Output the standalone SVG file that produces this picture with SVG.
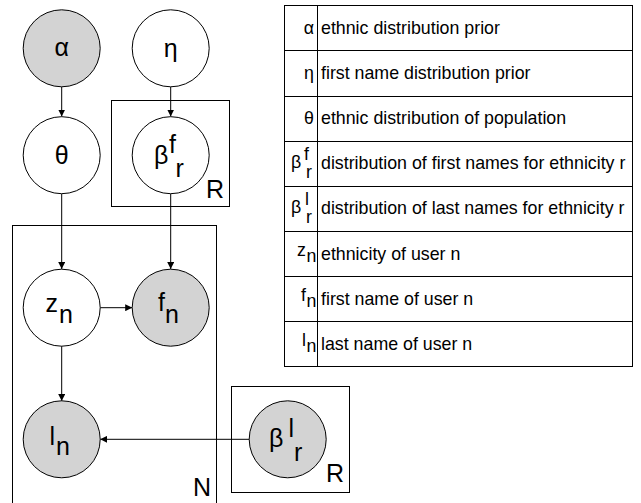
<svg xmlns="http://www.w3.org/2000/svg" width="641" height="503" viewBox="0 0 641 503">
<defs>
<marker id="ah" viewBox="0 0 10 10" refX="10" refY="5" markerWidth="7" markerHeight="7" markerUnits="userSpaceOnUse" orient="auto"><path d="M0,0 L10,5 L0,10 z" fill="#000"/></marker>
<style>
.n{stroke:#000;stroke-width:1;fill:#fff}
.o{fill:#d3d3d3}
.plate{fill:none;stroke:#000;stroke-width:1}
.lbl{font-family:"Liberation Sans",Arial,sans-serif;font-size:25px;fill:#000}
.t{font-family:"Liberation Sans",Arial,sans-serif;font-size:17.8px;fill:#000}
.e{stroke:#000;stroke-width:1;fill:none;marker-end:url(#ah)}
.g{stroke:#000;stroke-width:1;fill:none}
</style>
</defs>
<rect width="641" height="503" fill="#fff"/>
<g id="plates">
<rect class="plate" x="111.5" y="100.5" width="118" height="106"/>
<text class="lbl" x="206" y="198">R</text>
<rect class="plate" x="12.5" y="225.5" width="204" height="290"/>
<text class="lbl" x="193" y="496">N</text>
<rect class="plate" x="231.5" y="386.5" width="118" height="106"/>
<text class="lbl" x="326" y="482">R</text>
</g>
<g id="connectors">
<line class="e" x1="61.7" y1="87" x2="61.7" y2="116.5"/>
<line class="e" x1="170.7" y1="87" x2="170.7" y2="116.5"/>
<line class="e" x1="61.7" y1="194" x2="61.7" y2="269"/>
<line class="e" x1="170.7" y1="194" x2="170.7" y2="269"/>
<line class="e" x1="100.2" y1="307.7" x2="132.2" y2="307.7"/>
<line class="e" x1="61.7" y1="346" x2="61.7" y2="401"/>
<line class="e" x1="249.2" y1="439.3" x2="100.2" y2="439.3"/>
</g>
<g id="alpha"><circle class="n o" cx="61.7" cy="48.3" r="38.5"/><text class="lbl" x="61.7" y="56" text-anchor="middle">α</text></g>
<g id="eta"><circle class="n" cx="170.7" cy="48.3" r="38.5"/><text class="lbl" x="170.7" y="57" text-anchor="middle">η</text></g>
<g id="theta"><circle class="n" cx="61.7" cy="155.2" r="38.5"/><text class="lbl" x="61.7" y="164" text-anchor="middle">θ</text></g>
<g id="beta_f"><circle class="n" cx="170.7" cy="155.2" r="38.5"/><text class="lbl" x="154" y="164">β</text><text class="lbl" x="169" y="153">f</text><text class="lbl" x="175.5" y="177">r</text></g>
<g id="z_n"><circle class="n" cx="61.7" cy="307.7" r="38.5"/><text class="lbl" x="45.5" y="312">z</text><text class="lbl" x="59" y="323">n</text></g>
<g id="f_n"><circle class="n o" cx="170.7" cy="307.7" r="38.5"/><text class="lbl" x="158" y="311">f</text><text class="lbl" x="165" y="323">n</text></g>
<g id="l_n"><circle class="n o" cx="61.7" cy="439.3" r="38.5"/><text class="lbl" x="49.5" y="445">l</text><text class="lbl" x="56" y="455">n</text></g>
<g id="beta_l"><circle class="n o" cx="287.7" cy="439.3" r="38.5"/><text class="lbl" x="269" y="447">β</text><text class="lbl" x="288.5" y="437">l</text><text class="lbl" x="294" y="461">r</text></g>
<g id="legend">
<rect class="g" x="284.5" y="5.5" width="348" height="361"/>
<line class="g" x1="317.5" y1="5.5" x2="317.5" y2="366.5"/>
<line class="g" x1="284.5" y1="50.5" x2="632.5" y2="50.5"/>
<line class="g" x1="284.5" y1="96.5" x2="632.5" y2="96.5"/>
<line class="g" x1="284.5" y1="141.5" x2="632.5" y2="141.5"/>
<line class="g" x1="284.5" y1="186.5" x2="632.5" y2="186.5"/>
<line class="g" x1="284.5" y1="231.5" x2="632.5" y2="231.5"/>
<line class="g" x1="284.5" y1="276.5" x2="632.5" y2="276.5"/>
<line class="g" x1="284.5" y1="321.5" x2="632.5" y2="321.5"/>
<text class="t" x="314" y="34" text-anchor="end">α</text><text class="t" x="321" y="34">ethnic distribution prior</text>
<text class="t" x="314" y="79" text-anchor="end">η</text><text class="t" x="321" y="79">first name distribution prior</text>
<text class="t" x="314" y="124" text-anchor="end">θ</text><text class="t" x="321" y="124">ethnic distribution of population</text>
<text class="t" x="291" y="168">β</text><text class="t" x="304" y="160">f</text><text class="t" x="306" y="178">r</text><text class="t" x="321" y="169">distribution of first names for ethnicity r</text>
<text class="t" x="291" y="213">β</text><text class="t" x="305" y="205">l</text><text class="t" x="306" y="223">r</text><text class="t" x="321" y="214">distribution of last names for ethnicity r</text>
<text class="t" x="297" y="256">z</text><text class="t" x="306.5" y="262">n</text><text class="t" x="321" y="260">ethnicity of user n</text>
<text class="t" x="301" y="301">f</text><text class="t" x="306.5" y="307">n</text><text class="t" x="321" y="305">first name of user n</text>
<text class="t" x="302" y="346">l</text><text class="t" x="306.5" y="352">n</text><text class="t" x="321" y="350">last name of user n</text>
</g>
</svg>
